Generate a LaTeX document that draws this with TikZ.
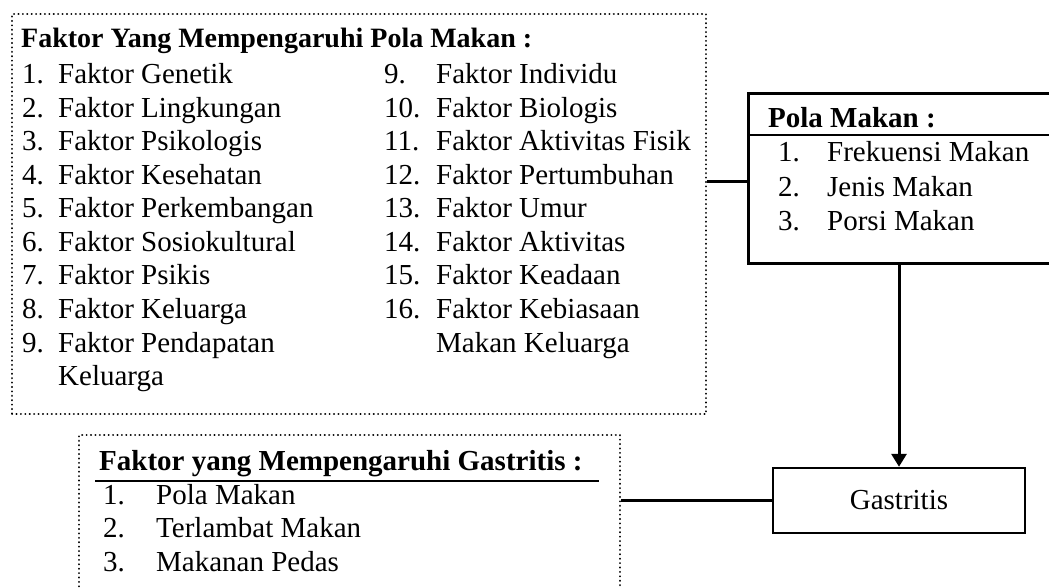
\documentclass[tikz,border=0pt]{standalone}
\usepackage{fontspec}
\setmainfont{Liberation Serif}
\usetikzlibrary{arrows.meta}
\tikzset{
  txt/.style={inner sep=0pt, anchor=base west, font=\fontsize{29bp}{33.5bp}\selectfont},
  btxt/.style={inner sep=0pt, anchor=base west, font=\fontsize{29bp}{33.5bp}\selectfont\bfseries},
  dotbox/.style={draw, line width=2.2bp, dash pattern=on 0.01bp off 4.4bp, line cap=round, inner sep=0pt},
  solidbox/.style={draw, line width=3bp, inner sep=0pt},
  conn/.style={line width=3bp},
}
\begin{document}
\begin{tikzpicture}[x=1bp,y=-1bp]
\useasboundingbox (0,0) rectangle (1049,588);
\clip (0,0) rectangle (1049,588);

% --- top dotted box: factors influencing eating pattern
\node[dotbox, anchor=north west, minimum width=694bp, minimum height=400bp] (fbox) at (11,13) {};
\node[btxt, font=\fontsize{28bp}{33.5bp}\selectfont\bfseries] (ftitle) at (21,48) {Faktor Yang Mempengaruhi Pola Makan :};
\foreach \t [count=\k] in {Faktor Genetik, Faktor Lingkungan, Faktor Psikologis, Faktor Kesehatan,
  Faktor Perkembangan, Faktor Sosiokultural, Faktor Psikis, Faktor Keluarga, Faktor Pendapatan}{
  \node[txt] (an\k) at (22,{84+(\k-1)*33.5}) {\k.};
  \node[txt] (at\k) at (58,{84+(\k-1)*33.5}) {\t};
}
\node[txt] (at10) at (58,385.5) {Keluarga};
\foreach \t [count=\k from 9] in {Faktor Individu, Faktor Biologis, Faktor Aktivitas Fisik, Faktor Pertumbuhan,
  Faktor Umur, Faktor Aktivitas, Faktor Keadaan, Faktor Kebiasaan}{
  \node[txt] (bn\k) at (384,{84+(\k-9)*33.5}) {\k.};
  \node[txt] (bt\k) at (436,{84+(\k-9)*33.5}) {\t};
}
\node[txt] (bt17) at (436,352) {Makan Keluarga};

% --- Pola Makan box
\node[solidbox, anchor=north west, minimum width=305bp, minimum height=170bp] (pm) at (747,92) {};
\node[btxt] (pmtitle) at (768,128) {Pola Makan :};
\draw[line width=2.4bp] (pm.west |- 0,135) -- (pm.east |- 0,135);
\foreach \t [count=\k] in {Frekuensi Makan, Jenis Makan, Porsi Makan}{
  \node[txt] (pn\k) at (778,{162+(\k-1)*34.5}) {\k.};
  \node[txt] (pt\k) at (827,{162+(\k-1)*34.5}) {\t};
}
\coordinate (pmin) at ([yshift=-3bp]pm.west);

% --- Gastritis box
\node[draw, line width=2.4bp, inner sep=0pt, minimum width=252bp, minimum height=65bp,
      font=\fontsize{29bp}{33.5bp}\selectfont] (gas) at (899,500.5) {Gastritis};

% --- bottom dotted box
\node[dotbox, anchor=north west, minimum width=541bp, minimum height=200bp] (gbox) at (78,434) {};
\node[btxt] (gtitle) at (99,470) {Faktor yang Mempengaruhi Gastritis :};
\draw[line width=2.6bp] (95,481) -- (599,481);
\foreach \t [count=\k] in {Pola Makan, Terlambat Makan, Makanan Pedas}{
  \node[txt] (gn\k) at (103,{504+(\k-1)*33.6}) {\k.};
  \node[txt] (gt\k) at (156,{504+(\k-1)*33.6}) {\t};
}

% --- connectors
\draw[conn] (fbox.east |- pmin) -- (pmin);
\draw[conn, -{Triangle[width=15bp,length=13bp]}] (pm.south -| gas.north) -- (gas.north);
\draw[conn] (gbox.east |- gas.west) -- (gas.west);
\end{tikzpicture}
\end{document}
